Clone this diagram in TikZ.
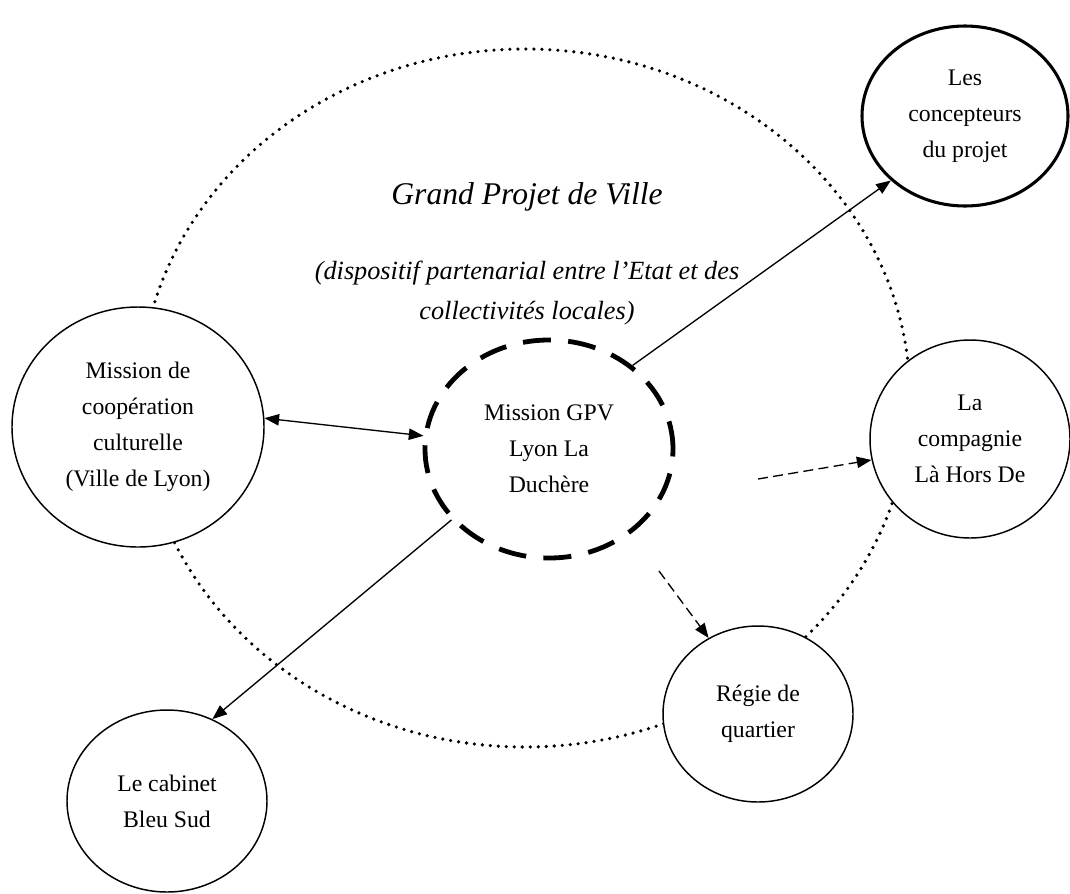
\documentclass[tikz,border=0pt]{standalone}
\usepackage{fontspec}
\setmainfont{Liberation Serif}
\usetikzlibrary{arrows.meta,shapes.geometric}

\begin{document}
\begin{tikzpicture}[x=0.75pt,y=-0.75pt,
  actor/.style={ellipse,draw,fill=white,line width=1.1pt,inner sep=0pt,
    align=center,font=\fontsize{17.8}{27}\selectfont},
  mission/.style={actor,line width=3.6pt,dash pattern=on 21pt off 13pt},
  perimeter/.style={line width=2.7pt,line cap=round,dash pattern=on 0pt off 6pt},
  arrow/.style={-{Triangle[length=11pt,width=8.5pt]},line width=1pt},
  dblarrow/.style={{Triangle[length=11pt,width=8.5pt]}-{Triangle[length=11pt,width=8.5pt]},line width=1pt},
  dasharrow/.style={arrow,dash pattern=on 7.5pt off 4pt}]
  \useasboundingbox (0,0) rectangle (1070,893);
  \draw[perimeter] (525,398) ellipse [x radius=288.75pt,y radius=261.75pt];
  \node[font=\fontsize{23.7}{28}\selectfont\itshape] (title) at (527,197) {Grand Projet de Ville};
  \node[align=center,font=\fontsize{19.7}{30}\selectfont\itshape] (note) at (527,293)
    {(dispositif partenarial entre l’Etat et des\\collectivités locales)};
  \node[mission,minimum width=186pt,minimum height=163.5pt] (gpv) at (549,449)
    {Mission GPV\\Lyon La\\Duchère};
  \node[actor,minimum width=189pt,minimum height=180pt] (coop) at (138,427)
    {Mission de\\coopération\\culturelle\\(Ville de Lyon)};
  \node[actor,line width=2.3pt,minimum width=154.5pt,minimum height=135pt] (concept) at (965,116)
    {Les\\concepteurs\\du projet};
  \node[actor,minimum width=150pt,minimum height=148.5pt] (comp) at (970,439)
    {La\\compagnie\\Là Hors De};
  \node[actor,minimum width=142.5pt,minimum height=132pt] (regie) at (758,714)
    {Régie de\\quartier};
  \node[actor,minimum width=150pt,minimum height=136.5pt] (bleu) at (167,801)
    {Le cabinet\\Bleu Sud};
  \coordinate (toComp) at (758,479);
  \coordinate (toRegie) at (659,571);
  \draw[arrow] (gpv.45) -- (concept.221);
  \draw[dblarrow] (coop.4) -- (gpv.174);
  \draw[arrow] (gpv.216) -- (bleu.61);
  \draw[dasharrow] (toComp) -- (comp.192);
  \draw[dasharrow] (toRegie) -- (regie.123);
\end{tikzpicture}
\end{document}
